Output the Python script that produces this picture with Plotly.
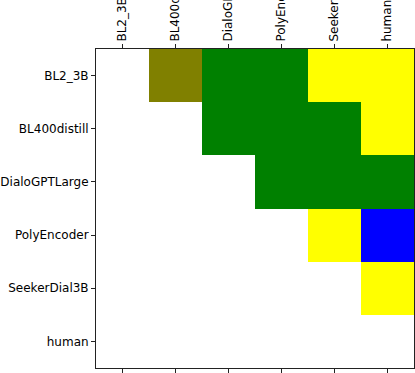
import plotly.graph_objects as go

# Model names (rows and columns)
models = ["BL2_3B", "BL400distill", "DialoGPTLarge", "PolyEncoder", "SeekerDial3B", "human"]

# Category codes per cell: None = empty, 1 = olive, 2 = green, 3 = yellow, 4 = blue
row_bl2 = [None, 1, 2, 2, 3, 3]
row_bl400 = [None, None, 2, 2, 2, 3]
row_dialo = [None, None, None, 2, 2, 2]
row_poly = [None, None, None, None, 3, 4]
row_seeker = [None, None, None, None, None, 3]
row_human = [None, None, None, None, None, None]

z = [row_bl2, row_bl400, row_dialo, row_poly, row_seeker, row_human]

cat_colors = ["#808000", "#008000", "#ffff00", "#0000ff"]
colorscale = []
n = len(cat_colors)
for i, c in enumerate(cat_colors):
    colorscale.append([i / n, c])
    colorscale.append([(i + 1) / n, c])

fig = go.Figure()
fig.add_trace(go.Heatmap(
    z=z, x=models, y=models,
    colorscale=colorscale, zmin=0.5, zmax=4.5,
    showscale=False, hoverongaps=False,
))

fig.update_layout(
    width=415, height=373,
    margin=dict(l=96, r=1, t=49, b=5),
    plot_bgcolor="white", paper_bgcolor="white",
    font=dict(family="DejaVu Sans", size=12, color="black"),
    xaxis=dict(
        side="top", tickangle=-90, ticks="outside", ticklen=4, tickcolor="#222",
        showline=True, linecolor="#222", linewidth=1, mirror="ticks",
        showgrid=False, zeroline=False, automargin=False,
    ),
    yaxis=dict(
        autorange="reversed", ticks="outside", ticklen=4, tickcolor="#222",
        showline=True, linecolor="#222", linewidth=1, mirror=True,
        showgrid=False, zeroline=False, automargin=False,
    ),
)

# page body has a default margin; drop it so the figure sits at the corner
fig.write_html("out.html", config={"displayModeBar": False},
               post_script="document.body.style.margin='0';")
